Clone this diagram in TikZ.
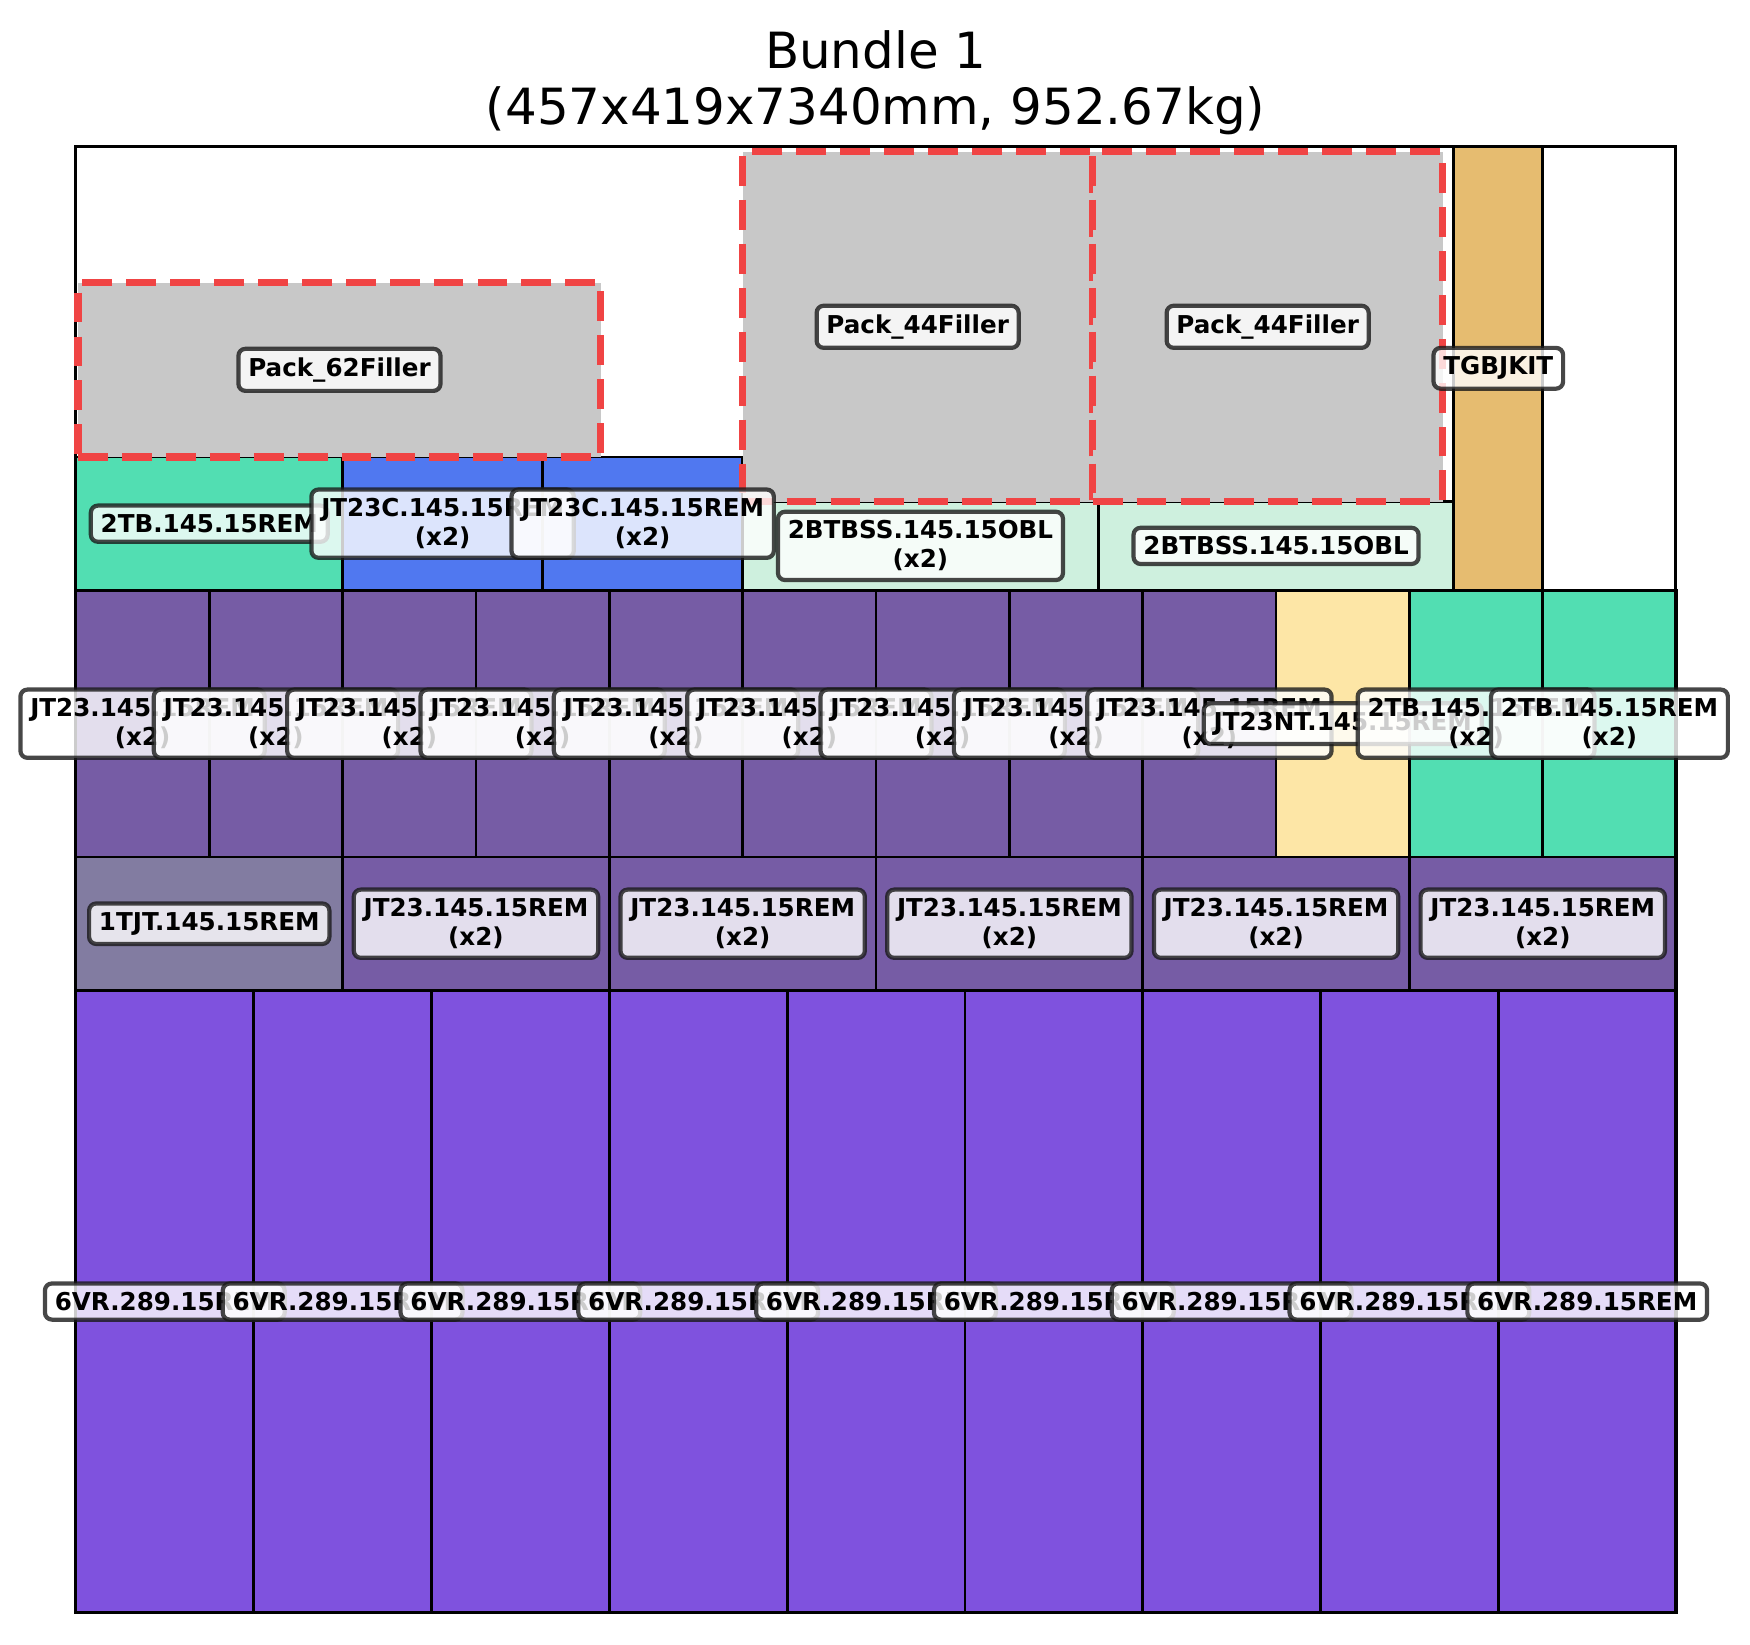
\documentclass[tikz,border=0pt]{standalone}
\usepackage{fontspec}
\setmainfont{DejaVu Sans}
\usetikzlibrary{positioning}
\definecolor{vrpurple}{HTML}{7F52DE}
\definecolor{jtpurple}{HTML}{765CA5}
\definecolor{tjtgrey}{HTML}{827CA1}
\definecolor{ntyellow}{HTML}{FDE6A6}
\definecolor{tbgreen}{HTML}{52DEB2}
\definecolor{jtcblue}{HTML}{5078F0}
\definecolor{bssmint}{HTML}{CEF0DE}
\definecolor{kitorange}{HTML}{E6BC70}
\definecolor{fillgrey}{HTML}{C8C8C8}
\definecolor{dashred}{HTML}{F04444}

\begin{document}
\begin{tikzpicture}
 [x=0.035cm,y=0.035cm,
% Box styles
    box/.style={rectangle,draw=black,line width=0.8pt,inner sep=0pt,outer sep=0pt,anchor=south west},
    dims/.style 2 args={minimum width=#1*0.035cm,minimum height=#2*0.035cm},
    vr/.style={box,dims={50.8}{177.8},fill=vrpurple},
    jtflat/.style={box,dims={76.2}{38.1},fill=jtpurple},
    jtup/.style={box,dims={38.1}{76.2},fill=jtpurple},
    filler/.style={box,fill=fillgrey,draw=dashred,line width=2pt,dash pattern=on 8.5pt off 4pt},
% Label style
    tag/.style={rectangle,rounded corners=2pt,draw=black!90,line width=1.2pt,fill=white,
        fill opacity=0.8,draw opacity=0.8,text opacity=1,inner xsep=2.8pt,inner ysep=2.5pt,
        align=center,font=\fontsize{7}{8.3}\selectfont\bfseries},
% Title style
    heading/.style={anchor=base,font=\fontsize{14.2}{17}\selectfont}
    ]
\useasboundingbox (-21.69,-8.94) rectangle (478.31,460.77);
%% Title
 \node (title) [heading] at (228.5,441.3) {Bundle 1};
 \node (subtitle) [heading] at (228.5,425.3) {(457x419x7340mm, 952.67kg)};
%% Bottom layer
 \node (vr1) [vr] at (0,0) {};
 \node (vr2) [vr] at (50.8,0) {};
 \node (vr3) [vr] at (101.6,0) {};
 \node (vr4) [vr] at (152.4,0) {};
 \node (vr5) [vr] at (203.2,0) {};
 \node (vr6) [vr] at (254,0) {};
 \node (vr7) [vr] at (304.8,0) {};
 \node (vr8) [vr] at (355.6,0) {};
 \node (vr9) [vr] at (406.4,0) {};
%% Second layer
 \node (tjt) [jtflat,fill=tjtgrey] at (0,177.8) {};
 \node (jt1) [jtflat] at (76.2,177.8) {};
 \node (jt2) [jtflat] at (152.4,177.8) {};
 \node (jt3) [jtflat] at (228.6,177.8) {};
 \node (jt4) [jtflat] at (304.8,177.8) {};
 \node (jt5) [jtflat] at (381,177.8) {};
%% Third layer
 \node (jt6) [jtup] at (0,215.9) {};
 \node (jt7) [jtup] at (38.1,215.9) {};
 \node (jt8) [jtup] at (76.2,215.9) {};
 \node (jt9) [jtup] at (114.3,215.9) {};
 \node (jt10) [jtup] at (152.4,215.9) {};
 \node (jt11) [jtup] at (190.5,215.9) {};
 \node (jt12) [jtup] at (228.6,215.9) {};
 \node (jt13) [jtup] at (266.7,215.9) {};
 \node (jt14) [jtup] at (304.8,215.9) {};
 \node (nt) [jtup,fill=ntyellow] at (342.9,215.9) {};
 \node (tb2) [jtup,fill=tbgreen] at (381,215.9) {};
 \node (tb3) [jtup,fill=tbgreen] at (419.1,215.9) {};
%% Top layer
 \node (tb1) [box,dims={76.2}{38.1},fill=tbgreen] at (0,292.1) {};
 \node (jtc1) [box,dims={57.15}{38.1},fill=jtcblue] at (76.2,292.1) {};
 \node (jtc2) [box,dims={57.15}{38.1},fill=jtcblue] at (133.35,292.1) {};
 \node (bss1) [box,dims={101.6}{25.4},fill=bssmint] at (190.5,292.1) {};
 \node (bss2) [box,dims={101.6}{25.4},fill=bssmint] at (292.1,292.1) {};
 \node (kit) [box,dims={25.4}{126.9},fill=kitorange] at (393.7,292.1) {};
%% Bundle outline
 \node (frame) [box,dims={457}{419},line width=0.9pt] at (0,0) {};
%% Fillers
 \node (pk62) [filler,dims={149.4}{49.8}] at (0.6,330.2) {};
 \node (pk44a) [filler,dims={100}{100}] at (190.5,317.4) {};
 \node (pk44b) [filler,dims={100}{100}] at (290.5,317.4) {};
%% Labels
 \node [tag] at (vr1.center) {6VR.289.15REM};
 \node [tag] at (vr2.center) {6VR.289.15REM};
 \node [tag] at (vr3.center) {6VR.289.15REM};
 \node [tag] at (vr4.center) {6VR.289.15REM};
 \node [tag] at (vr5.center) {6VR.289.15REM};
 \node [tag] at (vr6.center) {6VR.289.15REM};
 \node [tag] at (vr7.center) {6VR.289.15REM};
 \node [tag] at (vr8.center) {6VR.289.15REM};
 \node [tag] at (vr9.center) {6VR.289.15REM};
 \node [tag] at (tjt.center) {1TJT.145.15REM};
 \node [tag] at (jt1.center) {JT23.145.15REM\\(x2)};
 \node [tag] at (jt2.center) {JT23.145.15REM\\(x2)};
 \node [tag] at (jt3.center) {JT23.145.15REM\\(x2)};
 \node [tag] at (jt4.center) {JT23.145.15REM\\(x2)};
 \node [tag] at (jt5.center) {JT23.145.15REM\\(x2)};
 \node [tag] at (jt6.center) {JT23.145.15REM\\(x2)};
 \node [tag] at (jt7.center) {JT23.145.15REM\\(x2)};
 \node [tag] at (jt8.center) {JT23.145.15REM\\(x2)};
 \node [tag] at (jt9.center) {JT23.145.15REM\\(x2)};
 \node [tag] at (jt10.center) {JT23.145.15REM\\(x2)};
 \node [tag] at (jt11.center) {JT23.145.15REM\\(x2)};
 \node [tag] at (jt12.center) {JT23.145.15REM\\(x2)};
 \node [tag] at (jt13.center) {JT23.145.15REM\\(x2)};
 \node [tag] at (jt14.center) {JT23.145.15REM\\(x2)};
 \node [tag] at (nt.center) {JT23NT.145.15REM};
 \node [tag] at (tb2.center) {2TB.145.15REM\\(x2)};
 \node [tag] at (tb3.center) {2TB.145.15REM\\(x2)};
 \node [tag] at (tb1.center) {2TB.145.15REM};
 \node [tag] at (jtc1.center) {JT23C.145.15REM\\(x2)};
 \node [tag] at (jtc2.center) {JT23C.145.15REM\\(x2)};
 \node [tag] at (bss1.center) {2BTBSS.145.15OBL\\(x2)};
 \node [tag] at (bss2.center) {2BTBSS.145.15OBL};
 \node [tag] at (kit.center) {TGBJKIT};
 \node [tag] at (pk62.center) {Pack\_62Filler};
 \node [tag] at (pk44a.center) {Pack\_44Filler};
 \node [tag] at (pk44b.center) {Pack\_44Filler};
\end{tikzpicture}
\end{document}
